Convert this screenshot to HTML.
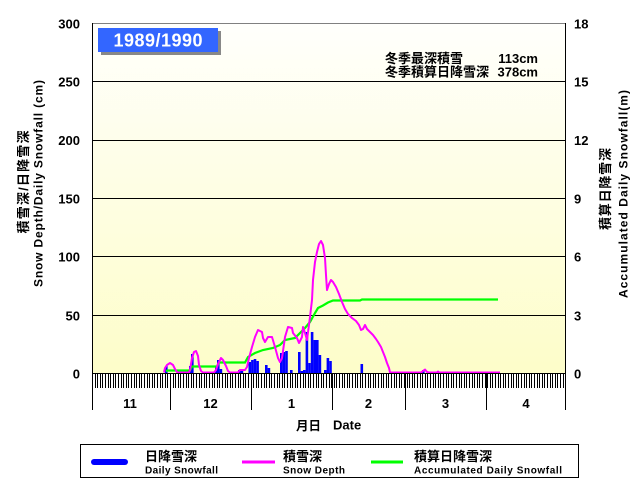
<!DOCTYPE html>
<html><head><meta charset="utf-8"><style>
html,body{margin:0;padding:0;background:#fff;width:644px;height:493px;overflow:hidden}
svg{display:block}
text{font-family:"Liberation Sans","Noto Sans CJK JP",sans-serif;font-weight:bold;fill:#000}
</style></head><body>
<svg width="644" height="493" viewBox="0 0 644 493" xmlns="http://www.w3.org/2000/svg">
<defs>
<linearGradient id="bg" x1="0" y1="0" x2="0" y2="1">
<stop offset="0" stop-color="#fffffc"/>
<stop offset="1" stop-color="#fdfdc9"/>
</linearGradient>
<pattern id="tk" x="92" y="373" width="13" height="15" patternUnits="userSpaceOnUse">
<rect x="0" y="0" width="1" height="15" fill="#000"/>
<rect x="3" y="0" width="1" height="15" fill="#000"/>
<rect x="5" y="0" width="1" height="15" fill="#000"/>
<rect x="8" y="0" width="1" height="15" fill="#000"/>
<rect x="10" y="0" width="1" height="15" fill="#000"/>
</pattern>
</defs>
<rect x="92" y="23" width="473" height="350" fill="url(#bg)"/>
<!-- grid -->
<g stroke="#000" stroke-width="1">
<line x1="92" y1="81.5" x2="565" y2="81.5"/>
<line x1="92" y1="140.5" x2="565" y2="140.5"/>
<line x1="92" y1="198.5" x2="565" y2="198.5"/>
<line x1="92" y1="256.5" x2="565" y2="256.5"/>
<line x1="92" y1="315.5" x2="565" y2="315.5"/>
</g>
<line x1="92" y1="23.5" x2="565" y2="23.5" stroke="#808080" stroke-width="1"/>
<!-- title box -->
<rect x="101" y="31" width="120" height="24" fill="#888"/>
<rect x="98" y="28" width="120" height="24" fill="#3366ff"/>
<text x="158" y="46.5" font-size="18" text-anchor="middle" textLength="89" lengthAdjust="spacing" style="fill:#fff">1989/1990</text>
<!-- annotation -->
<text x="385" y="63" font-size="13">冬季最深積雪</text>
<text x="538" y="63" font-size="13" text-anchor="end">113cm</text>
<text x="385" y="76.5" font-size="13">冬季積算日降雪深</text>
<text x="538" y="76.5" font-size="13" text-anchor="end">378cm</text>
<!-- bars -->
<g fill="#0000ff">
<rect x="165" y="366" width="2.6" height="7"/>
<rect x="189" y="366" width="2.2" height="7"/>
<rect x="191" y="354" width="2.6" height="19"/>
<rect x="215" y="367" width="2.2" height="6"/>
<rect x="217" y="360" width="2.6" height="13"/>
<rect x="219.6" y="369" width="2.6" height="4"/>
<rect x="238" y="370" width="2.6" height="3"/>
<rect x="240.6" y="369" width="2.6" height="4"/>
<rect x="248.5" y="362" width="2.6" height="11"/>
<rect x="251.1" y="360" width="2.6" height="13"/>
<rect x="253.7" y="359" width="2.6" height="14"/>
<rect x="256.3" y="361" width="2.6" height="12"/>
<rect x="265" y="365" width="2.6" height="8"/>
<rect x="267.6" y="368" width="2.6" height="5"/>
<rect x="280" y="353" width="2.6" height="20"/>
<rect x="282.6" y="352" width="2.6" height="21"/>
<rect x="285.2" y="351" width="2.6" height="22"/>
<rect x="290" y="370" width="2.6" height="3"/>
<rect x="298" y="352" width="2.6" height="21"/>
<rect x="300.6" y="371" width="2.4" height="2"/>
<rect x="303" y="370" width="2.6" height="3"/>
<rect x="305.6" y="332" width="2.6" height="41"/>
<rect x="308.2" y="363" width="2.6" height="10"/>
<rect x="310.8" y="332" width="2.6" height="41"/>
<rect x="313.4" y="340" width="2.6" height="33"/>
<rect x="316" y="340" width="2.6" height="33"/>
<rect x="318.6" y="355" width="2.6" height="18"/>
<rect x="324" y="370" width="2.6" height="3"/>
<rect x="326.6" y="358" width="2.6" height="15"/>
<rect x="329.2" y="361" width="2.6" height="12"/>
<rect x="360.5" y="364" width="2.6" height="9"/>
<rect x="422" y="370" width="2.6" height="3"/>
</g>
<!-- accumulated -->
<polyline fill="none" stroke="#00ff00" stroke-width="2.2" points="166,371 168,370.5 190,370.5 192,366.5 217,366.5 219,362.5 245,362.5 248,357 255,353 263,350 273,348 280,345 285,340 295,338 300,333 305,328 310,322 315,313 318,308 323,305.5 328,302.5 333,300.5 360,300.5 362,299.5 498,299.5"/>
<!-- depth -->
<polyline fill="none" stroke="#ff00ff" stroke-width="2" stroke-linejoin="round" points="164,372.5 165,368 167,365 170,363 173,365 175,369 177,372 178,372.5 189,372.5 190,370 192,358 194,352 196,351 198,356 199,365 201,371 203,372.5 214,372.5 216,370 218,364 221,358 223,360 226,366 228,371 230,372.5 238,372.5 240,370 245,370 247,367 249,358 252,347 255,337 258,330 262,332 263,338 265,342 268,337 272,337 275,347 278,358 280,362 282,358 285,337 288,327 292,328 293,333 297,338 299,343 302,337 303,327 305,333 307,340 310,317 312,300 313,280 315,262 317,252 319,244 321,241 323,245 325,258 326,275 327,290 329,284 331,280 333,282 336,287 339,294 342,302 345,309 348,314 352,318 356,321 359,325 361,330 363,329 365,325 367,329 370,332 373,335 376,339 378,342 381,347 383,352 385,357 387,363 389,368 390,372.5 421,372.5 423,371 425,369.5 427,372 429,372.5 437,372.5 438,371.5 439,372.5 500,372.5"/>
<!-- ticks -->
<rect x="92" y="373" width="474" height="15" fill="url(#tk)"/>
<line x1="92" y1="373.5" x2="566" y2="373.5" stroke="#000"/>
<g stroke="#000" stroke-width="1">
<line x1="92.5" y1="23" x2="92.5" y2="410"/>
<line x1="565.5" y1="23" x2="565.5" y2="410"/>
<line x1="170.5" y1="373" x2="170.5" y2="410"/>
<line x1="251.5" y1="373" x2="251.5" y2="410"/>
<line x1="332.5" y1="373" x2="332.5" y2="410"/>
<line x1="405.5" y1="373" x2="405.5" y2="410"/>
<line x1="486.5" y1="373" x2="486.5" y2="410"/>
</g>
<!-- left labels -->
<g font-size="13" text-anchor="end">
<text x="80" y="28.5">300</text>
<text x="80" y="86.5">250</text>
<text x="80" y="145">200</text>
<text x="80" y="203.5">150</text>
<text x="80" y="261.5">100</text>
<text x="80" y="320.5">50</text>
<text x="80" y="378.5">0</text>
</g>
<g font-size="13">
<text x="574" y="28.5">18</text>
<text x="574" y="86.5">15</text>
<text x="574" y="145">12</text>
<text x="574" y="203.5">9</text>
<text x="574" y="261.5">6</text>
<text x="574" y="320.5">3</text>
<text x="574" y="378.5">0</text>
</g>
<!-- month labels -->
<g font-size="13" text-anchor="middle">
<text x="130" y="408">11</text>
<text x="210.5" y="408">12</text>
<text x="291.5" y="408">1</text>
<text x="368.5" y="408">2</text>
<text x="445.5" y="408">3</text>
<text x="526" y="408">4</text>
</g>
<text x="296" y="430" font-size="12.5">月日</text>
<text x="333" y="429.5" font-size="13">Date</text>
<!-- axis titles -->
<text transform="translate(23,182) rotate(-90)" x="0" y="5" font-size="13" text-anchor="middle" textLength="103" lengthAdjust="spacing">積雪深/日降雪深</text>
<text transform="translate(38,183.5) rotate(-90)" x="0" y="4.5" font-size="12" text-anchor="middle" textLength="207" lengthAdjust="spacing">Snow Depth/Daily Snowfall (cm)</text>
<text transform="translate(605,189) rotate(-90)" x="0" y="5" font-size="13" text-anchor="middle" textLength="82" lengthAdjust="spacing">積算日降雪深</text>
<text transform="translate(623,194) rotate(-90)" x="0" y="4.5" font-size="12" text-anchor="middle" textLength="208" lengthAdjust="spacing">Accumulated Daily Snowfall(m)</text>
<!-- legend -->
<rect x="80.5" y="444.5" width="498" height="33" fill="#fff" stroke="#000" stroke-width="1"/>
<line x1="94" y1="462" x2="125" y2="462" stroke="#0000ff" stroke-width="6" stroke-linecap="round"/>
<line x1="242" y1="462" x2="275" y2="462" stroke="#ff00ff" stroke-width="3"/>
<line x1="371" y1="462" x2="403" y2="462" stroke="#00ff00" stroke-width="3"/>
<text x="145" y="461" font-size="13">日降雪深</text>
<text x="145" y="473.5" font-size="10" textLength="73" lengthAdjust="spacing">Daily Snowfall</text>
<text x="283" y="461" font-size="13">積雪深</text>
<text x="283" y="473.5" font-size="10" textLength="62" lengthAdjust="spacing">Snow Depth</text>
<text x="414" y="461" font-size="13">積算日降雪深</text>
<text x="414" y="473.5" font-size="10" textLength="148" lengthAdjust="spacing">Accumulated Daily Snowfall</text>
</svg>
</body></html>
